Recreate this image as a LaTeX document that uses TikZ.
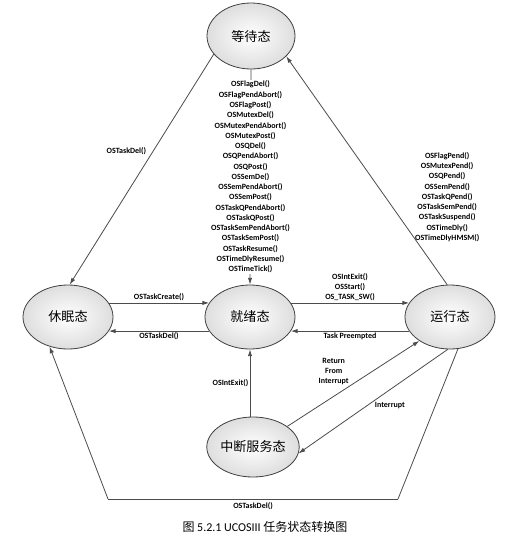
\documentclass[tikz,border=0pt]{standalone}
\usepackage{fontspec}
\setmainfont{Carlito}
\newfontfamily\cjk{Noto Sans CJK SC}
\usetikzlibrary{arrows.meta,shapes.geometric}
\begin{document}
\begin{tikzpicture}[x=0.75pt,y=-0.75pt,
  state/.style={ellipse, draw=black!75, line width=0.6pt, inner color=white, outer color=black!13,
    font=\fontsize{9.8}{11}\selectfont\cjk, minimum width=67.5pt, minimum height=48pt, inner sep=0pt},
  arr/.style={draw=black!70, line width=0.6pt, -{Latex[length=5pt,width=3.2pt]}},
  plain/.style={draw=black!70, line width=0.6pt},
  lbl/.style={font=\fontsize{6}{7.7}\selectfont\bfseries, align=center, inner sep=1pt, text=black}]
\fill[white] (0,0) rectangle (527,540);
\useasboundingbox (0,0) rectangle (527,540);

\node[state, minimum width=66pt, minimum height=49.5pt] (wait) at (251,36) {等待态};
\node[state] (sleep) at (68,317) {休眠态};
\node[state] (ready) at (250,317) {就绪态};
\node[state] (run) at (450,317) {运行态};
\node[state, minimum height=45pt] (isr) at (253,447) {中断服务态};

\coordinate (c1) at (398,499);
\coordinate (c2) at (108,499);

% wait -> sleep
\draw[arr] (wait.206) -- node[lbl, pos=0.42, left=4pt] {OSTaskDel()} (sleep.87);
% run -> wait
\draw[arr] (run.95) -- node[lbl, pos=0.384, right=21pt] {OSFlagPend()\\OSMutexPend()\\OSQPend()\\OSSemPend()\\OSTaskQPend()\\OSTaskSemPend()\\OSTaskSuspend()\\OSTimeDly()\\OSTimeDlyHMSM()} (wait.-30);
% wait -> ready
\draw[arr] (wait.south) -- node[lbl, midway, fill=white] {OSFlagDel()\\OSFlagPendAbort()\\OSFlagPost()\\OSMutexDel()\\OSMutexPendAbort()\\OSMutexPost()\\OSQDel()\\OSQPendAbort()\\OSQPost()\\OSSemDe()\\OSSemPendAbort()\\OSSemPost()\\OSTaskQPendAbort()\\OSTaskQPost()\\OSTaskSemPendAbort()\\OSTaskSemPost()\\OSTaskResume()\\OSTimeDlyResume()\\OSTimeTick()} (ready.north);
% sleep <-> ready
\draw[arr] (sleep.19) -- node[lbl, midway, above=0pt] {OSTaskCreate()} (ready.161);
\draw[arr] (ready.-161) -- node[lbl, midway, below=0pt] {OSTaskDel()} (sleep.-19);
% ready <-> run
\draw[arr] (ready.19) -- node[lbl, midway, above=0pt] {OSIntExit()\\OSStart()\\OS\_TASK\_SW()} (run.161);
\draw[arr] (run.-161) -- node[lbl, midway, below=0pt] {Task Preempted} (ready.-19);
% isr -> ready
\draw[arr] (isr.north -| ready) -- node[lbl, midway, left=0pt] {OSIntExit()} (ready.south);
% isr <-> run
\draw[arr] (isr.31) -- node[lbl, pos=0.64, left=16pt] {Return\\From\\Interrupt} (run.218);
\draw[arr] (run.266) -- node[lbl, pos=0.54, right=4.5pt] {Interrupt} (isr.-8);
% run -> sleep (bottom)
\draw[plain] (run.284) -- (c1);
\draw[plain] (c1) -- node[lbl, midway, below=1pt] {OSTaskDel()} (c2);
\draw[arr] (c2) -- (sleep.238);

\node[font=\fontsize{9}{11}\selectfont, inner sep=0pt] (cap) at (265,527) {{\cjk 图} 5.2.1 UCOSIII {\cjk 任务状态转换图}};
\end{tikzpicture}
\end{document}
